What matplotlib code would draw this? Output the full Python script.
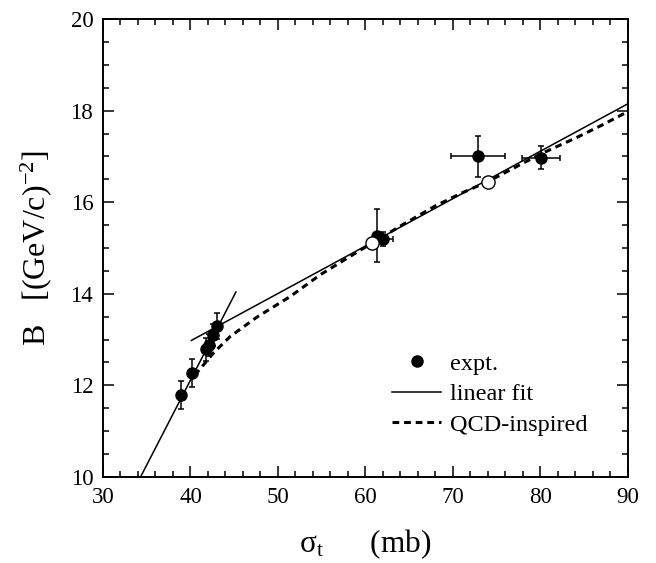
import matplotlib
matplotlib.use("Agg")
import matplotlib.pyplot as plt
from matplotlib.ticker import MultipleLocator
from matplotlib.lines import Line2D

plt.rcParams['font.family'] = ['Liberation Serif', 'DejaVu Serif']
plt.rcParams['mathtext.fontset'] = 'custom'
plt.rcParams['mathtext.rm'] = 'Liberation Serif'
plt.rcParams['mathtext.it'] = 'Liberation Serif:italic'

# experimental points (filled)
exp_x = [38.9, 40.2, 41.8, 42.1, 42.55, 43.05, 61.3, 62.0, 72.9, 80.1]
exp_y = [11.79, 12.27, 12.79, 12.88, 13.1, 13.3, 15.27, 15.2, 17.0, 16.97]
exp_yerr = [0.3, 0.3, 0.25, 0.25, 0.25, 0.28, 0.58, 0.15, 0.45, 0.25]
exp_xerr = [0, 0, 0, 0, 0, 0, 0, 1.2, 3.1, 2.2]

# open circles (QCD-inspired points)
open_x = [60.8, 74.0]
open_y = [15.1, 16.45]

# linear fits
fit1_x = [34.3, 45.2]
fit1_y = [10.0, 14.04]
fit2_x = [40.1, 90.0]
fit2_y = [12.98, 18.15]

# QCD-inspired curve
qcd_x = [40.5, 41.5, 42.6, 44.5, 47.6, 51.4, 54.8, 57.85, 60.1, 64.0, 68.0, 71.0, 74.0, 77.0, 80.0, 84.0, 87.0, 90.0]
qcd_y = [12.22, 12.45, 12.70, 13.06, 13.49, 13.94, 14.41, 14.77, 15.03, 15.48, 15.92, 16.2, 16.45, 16.75, 17.05, 17.4, 17.68, 17.98]

fig = plt.figure(figsize=(6.56, 5.63), dpi=100)
ax = fig.add_axes([0.157, 0.153, 0.8, 0.813])

ax.plot(fit1_x, fit1_y, color='black', lw=1.1)
ax.plot(fit2_x, fit2_y, color='black', lw=1.1)
ax.plot(qcd_x, qcd_y, color='black', lw=2.2, ls=(0, (2.2, 1.6)))
ax.errorbar(exp_x, exp_y, yerr=exp_yerr, xerr=exp_xerr, fmt='o', color='black',
            ms=8, elinewidth=1.1, capsize=2.5, capthick=1.1, zorder=5)
ax.plot(open_x, open_y, 'o', mfc='white', mec='black', ms=9.5, mew=1.0, zorder=6)

ax.set_xlim(30, 90)
ax.set_ylim(10, 20)
ax.xaxis.set_major_locator(MultipleLocator(10))
ax.xaxis.set_minor_locator(MultipleLocator(2))
ax.yaxis.set_major_locator(MultipleLocator(2))
ax.yaxis.set_minor_locator(MultipleLocator(0.5))
ax.tick_params(which='both', direction='in', top=True, right=True, labelsize=16.5, width=1.1)
ax.tick_params(which='major', length=8, pad=7)
ax.tick_params(which='minor', length=4)
for s in ax.spines.values():
    s.set_linewidth(1.4)

ax.set_xlabel(r'$\mathrm{\sigma}_\mathrm{t}$      (mb)', fontsize=22.5, labelpad=14)
ax.set_ylabel(r'B   [(GeV/c)$^{\mathrm{-2}}$]', fontsize=23, labelpad=12)

handles = [
    Line2D([], [], marker='o', color='black', ls='none', ms=8),
    Line2D([], [], color='black', lw=1.1),
    Line2D([], [], color='black', lw=2.2, ls=(0, (2.2, 1.6))),
]
ax.legend(handles, ['expt.', 'linear fit', 'QCD-inspired'], loc='lower left',
          bbox_to_anchor=(0.55, 0.09), frameon=False, fontsize=17.5, handlelength=2.05,
          handletextpad=0.35, labelspacing=0.35, borderpad=0, borderaxespad=0)

fig.savefig('out.png', dpi=100)
